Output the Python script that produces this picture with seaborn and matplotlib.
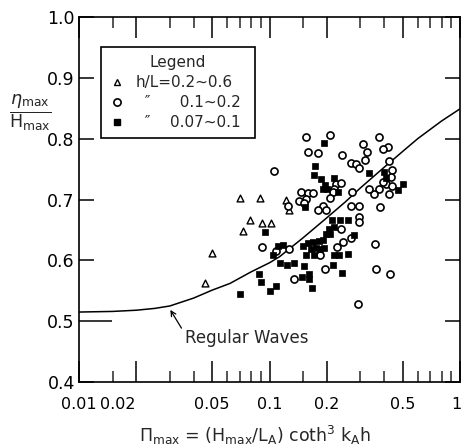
import numpy as np
import pandas as pd
import matplotlib
matplotlib.use("Agg")
import matplotlib.pyplot as plt
import matplotlib.transforms as mtransforms
from matplotlib.ticker import FixedLocator, NullFormatter
from matplotlib.lines import Line2D
import seaborn as sns

# ---------------- data ----------------
tri_x = [0.046, 0.0501, 0.0697, 0.0725, 0.0786, 0.0894, 0.0915, 0.102, 0.122, 0.127]
tri_y = [0.563, 0.612, 0.7025, 0.649, 0.666, 0.7025, 0.662, 0.661, 0.700, 0.683]

circ_x = [0.1556, 0.209, 0.159, 0.1805, 0.239, 0.105, 0.223, 0.237, 0.219, 0.2146,
          0.209, 0.1465, 0.159, 0.169, 0.1436, 0.156, 0.1525, 0.125, 0.190, 0.179,
          0.198, 0.091, 0.108, 0.127, 0.134, 0.185, 0.196, 0.237, 0.268, 0.242,
          0.226, 0.377, 0.421, 0.395, 0.310, 0.323, 0.318, 0.268, 0.284, 0.296,
          0.425, 0.442, 0.271, 0.268, 0.294, 0.380, 0.294, 0.294, 0.359, 0.362,
          0.430, 0.290, 0.4335, 0.408, 0.392, 0.374, 0.3545, 0.331, 0.425, 0.439]
circ_y = [0.803, 0.8055, 0.778, 0.776, 0.773, 0.747, 0.726, 0.727, 0.718, 0.712,
          0.703, 0.712, 0.710, 0.711, 0.697, 0.701, 0.694, 0.690, 0.690, 0.682,
          0.682, 0.622, 0.616, 0.618, 0.569, 0.609, 0.585, 0.651, 0.636, 0.630,
          0.622, 0.802, 0.787, 0.7825, 0.791, 0.778, 0.7655, 0.760, 0.758, 0.752,
          0.763, 0.749, 0.712, 0.689, 0.690, 0.687, 0.672, 0.663, 0.627, 0.586,
          0.577, 0.528, 0.737, 0.726, 0.729, 0.718, 0.7085, 0.717, 0.7096, 0.722]

sq_x = [0.194, 0.174, 0.172, 0.186, 0.219, 0.196, 0.190, 0.200, 0.228, 0.154,
        0.095, 0.104, 0.1105, 0.118, 0.114, 0.124, 0.134, 0.1525, 0.0886, 0.0897,
        0.108, 0.101, 0.070, 0.148, 0.161, 0.162, 0.1665, 0.1495, 0.159, 0.169,
        0.165, 0.172, 0.1755, 0.184, 0.194, 0.156, 0.183, 0.192, 0.198, 0.209,
        0.2045, 0.212, 0.235, 0.219, 0.217, 0.2325, 0.2146, 0.239, 0.257, 0.279,
        0.257, 0.334, 0.400, 0.408, 0.505, 0.475]
sq_y = [0.793, 0.755, 0.741, 0.733, 0.736, 0.724, 0.718, 0.718, 0.713, 0.688,
        0.646, 0.608, 0.624, 0.626, 0.596, 0.593, 0.595, 0.591, 0.578, 0.564,
        0.558, 0.549, 0.544, 0.573, 0.578, 0.570, 0.5545, 0.623, 0.6285, 0.630,
        0.619, 0.608, 0.621, 0.619, 0.621, 0.608, 0.632, 0.634, 0.644, 0.644,
        0.652, 0.666, 0.666, 0.655, 0.608, 0.609, 0.593, 0.579, 0.611, 0.641,
        0.667, 0.744, 0.745, 0.736, 0.726, 0.715]

curve_x = [0.01, 0.015, 0.02, 0.025, 0.03, 0.04, 0.05, 0.062, 0.08, 0.1,
           0.113, 0.15, 0.2, 0.25, 0.3, 0.4, 0.5, 0.6, 0.8, 1.0]
curve_y = [0.515, 0.516, 0.518, 0.521, 0.525, 0.538, 0.551, 0.562, 0.581, 0.596,
           0.606, 0.637, 0.670, 0.696, 0.719, 0.753, 0.779, 0.800, 0.829, 0.849]

x_ticks = [0.01, 0.02, 0.05, 0.1, 0.2, 0.5, 1.0]
x_tick_labels = ["0.01", "0.02", "0.05", "0.1", "0.2", "0.5", "1"]
x_minor = [0.015, 0.03, 0.04, 0.06, 0.07, 0.08, 0.09,
           0.15, 0.3, 0.4, 0.6, 0.7, 0.8, 0.9]
y_ticks = [0.4, 0.5, 0.6, 0.7, 0.8, 0.9, 1.0]
y_tick_labels = ["0.4", "0.5", "0.6", "0.7", "0.8", "0.9", "1.0"]

legend_title = "Legend"
legend_labels = ["h/L=0.2~0.6", "  \u2033      0.1~0.2", "  \u2033    0.07~0.1"]
curve_label = "Regular Waves"
x_label = r"$\Pi_{\rm max}$ = (H$_{\rm max}$/L$_{\rm A}$) coth$^{\rm 3}$ k$_{\rm A}$h"
y_label = r"$\frac{\eta_{\rm max}}{\mathrm{H}_{\rm max}}$"

# ---------------- styling ----------------
sns.set_style("ticks")
plt.rcParams['font.family'] = ['DejaVu Sans']
plt.rcParams['mathtext.fontset'] = 'dejavusans'

fig = plt.figure(figsize=(4.62, 4.46), dpi=100)
ax = fig.add_axes([79 / 462, 1 - 382 / 446, 381 / 462, 365 / 446])
ax.set_xscale('log')

curve_df = pd.DataFrame({"x": curve_x, "y": curve_y})
sns.lineplot(data=curve_df, x="x", y="y", sort=False, estimator=None,
             color='black', linewidth=1.1, ax=ax, zorder=2)

sns.scatterplot(x=tri_x, y=tri_y, marker='^', s=24, color='white',
                edgecolor='black', linewidth=1.0, ax=ax, zorder=3)
sns.scatterplot(x=circ_x, y=circ_y, marker='o', s=26, color='white',
                edgecolor='black', linewidth=1.2, ax=ax, zorder=3)
sns.scatterplot(x=sq_x, y=sq_y, marker='s', s=20, color='black',
                edgecolor='black', linewidth=0.5, ax=ax, zorder=4)

ax.set_xlim(0.01, 1.0)
ax.set_ylim(0.4, 1.0)

ax.xaxis.set_major_locator(FixedLocator(x_ticks))
ax.xaxis.set_minor_locator(FixedLocator(x_minor))
ax.set_xticklabels(x_tick_labels)
ax.xaxis.set_minor_formatter(NullFormatter())
ax.set_yticks(y_ticks)
ax.set_yticklabels(y_tick_labels)

for s in ax.spines.values():
    s.set_linewidth(1.2)
    s.set_color('black')

ax.tick_params(axis='x', which='major', direction='in', top=True, bottom=True,
               length=15, width=1.1, labelsize=11.5, pad=11, colors='black')
ax.tick_params(axis='x', which='minor', direction='in', top=True, bottom=True,
               length=8, width=1.1)
ax.tick_params(axis='y', which='major', direction='in', left=True, right=True,
               length=11, width=1.1, labelsize=12.5, pad=3, colors='black')
ax.tick_params(axis='y', which='minor', left=False, right=False)

# longer left tick at 0.5 as in the reference
ax.yaxis.get_major_ticks()[1].tick1line.set_markersize(24)

# shift "0.02" label leftwards, and "1" slightly, as in the reference
xlbls = ax.get_xticklabels()
xlbls[1].set_transform(xlbls[1].get_transform() +
                       mtransforms.ScaledTranslation(-0.19, 0, fig.dpi_scale_trans))
xlbls[-1].set_transform(xlbls[-1].get_transform() +
                        mtransforms.ScaledTranslation(-0.04, 0, fig.dpi_scale_trans))

ax.set_xlabel(x_label, fontsize=12.5, va='center')
ax.xaxis.set_label_coords(0.462, -0.146)
ax.set_ylabel(y_label, fontsize=18, rotation=0, ha='center', va='center')
ax.yaxis.set_label_coords(-0.129, 0.737)

# annotation
ax.annotate(curve_label, xy=(0.0299, 0.5205), xytext=(0.0359, 0.4723),
            textcoords='data', fontsize=12, ha='left', va='center',
            arrowprops=dict(arrowstyle='->', color='black', lw=0.9,
                            relpos=(0.0, 0.75), shrinkA=0, shrinkB=1,
                            mutation_scale=9))

# legend
handles = [
    Line2D([], [], linestyle='none', marker='^', markersize=5,
           markerfacecolor='white', markeredgecolor='black', markeredgewidth=1.0),
    Line2D([], [], linestyle='none', marker='o', markersize=5.2,
           markerfacecolor='white', markeredgecolor='black', markeredgewidth=1.2),
    Line2D([], [], linestyle='none', marker='s', markersize=4.6,
           markerfacecolor='black', markeredgecolor='black'),
]
leg = ax.legend(handles, legend_labels, title=legend_title, loc='upper left',
                bbox_to_anchor=(0.0576, 0.663, 0.4034, 0.255), mode='expand',
                frameon=True, fancybox=False, framealpha=1, edgecolor='black',
                fontsize=11, title_fontsize=11, handlelength=1.0,
                handletextpad=0.7, labelspacing=0.32, borderpad=0.55,
                borderaxespad=0)
leg.get_frame().set_linewidth(1.2)

fig.savefig("out.png", dpi=100)
